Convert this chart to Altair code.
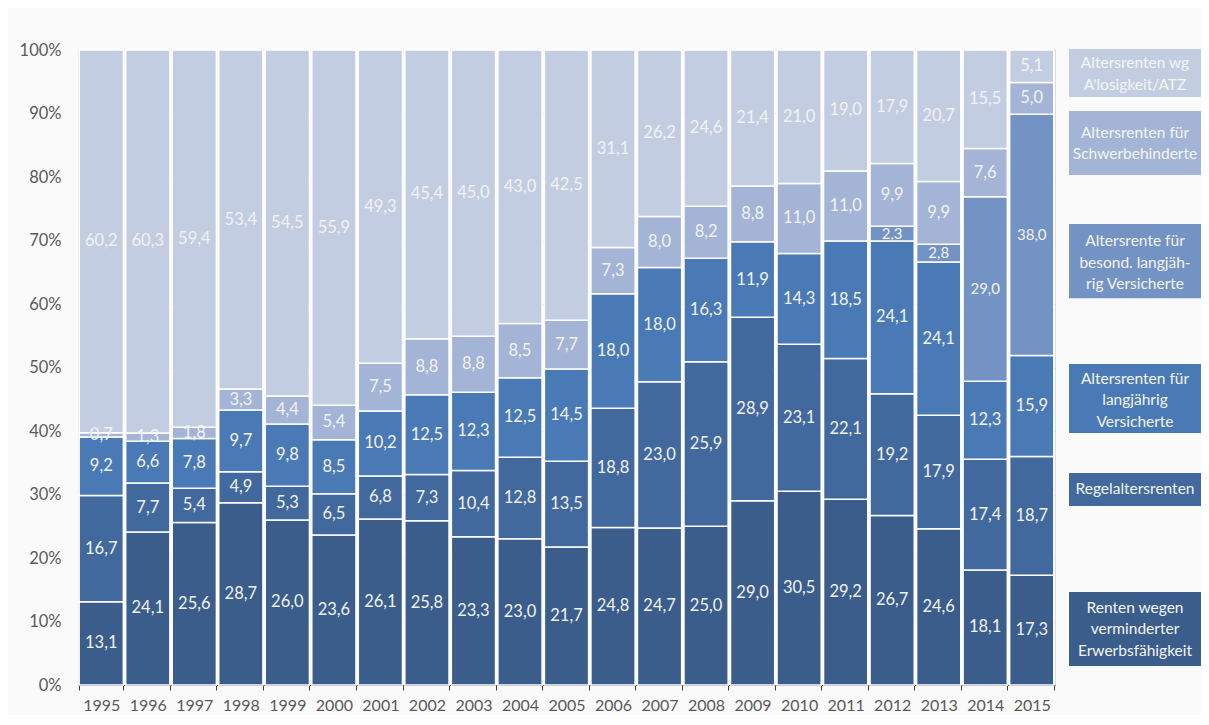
import altair as alt
import pandas as pd

years = [str(y) for y in range(1995, 2016)]
categories = [
    "Renten wegen verminderter Erwerbsfähigkeit",
    "Regelaltersrenten",
    "Altersrenten für langjährig Versicherte",
    "Altersrente für besond. langjährig Versicherte",
    "Altersrenten für Schwerbehinderte",
    "Altersrenten wg A'losigkeit/ATZ",
]
erwerb = [13.1, 24.1, 25.6, 28.7, 26.0, 23.6, 26.1, 25.8, 23.3, 23.0, 21.7, 24.8, 24.7, 25.0, 29.0, 30.5, 29.2, 26.7, 24.6, 18.1, 17.3]
regel = [16.7, 7.7, 5.4, 4.9, 5.3, 6.5, 6.8, 7.3, 10.4, 12.8, 13.5, 18.8, 23.0, 25.9, 28.9, 23.1, 22.1, 19.2, 17.9, 17.4, 18.7]
langj = [9.2, 6.6, 7.8, 9.7, 9.8, 8.5, 10.2, 12.5, 12.3, 12.5, 14.5, 18.0, 18.0, 16.3, 11.9, 14.3, 18.5, 24.1, 24.1, 12.3, 15.9]
besond = [0, 0, 0, 0, 0, 0, 0, 0, 0, 0, 0, 0, 0, 0, 0, 0, 0, 2.3, 2.8, 29.0, 38.0]
schwer = [0.7, 1.3, 1.8, 3.3, 4.4, 5.4, 7.5, 8.8, 8.8, 8.5, 7.7, 7.3, 8.0, 8.2, 8.8, 11.0, 11.0, 9.9, 9.9, 7.6, 5.0]
alos = [60.2, 60.3, 59.4, 53.4, 54.5, 55.9, 49.3, 45.4, 45.0, 43.0, 42.5, 31.1, 26.2, 24.6, 21.4, 21.0, 19.0, 17.9, 20.7, 15.5, 5.1]
series = [erwerb, regel, langj, besond, schwer, alos]

legend_texts = [
    "Renten wegen\nverminderter\nErwerbsfähigkeit",
    "Regelaltersrenten",
    "Altersrenten für\nlangjährig\nVersicherte",
    "Altersrente für\nbesond. langjäh-\nrig Versicherte",
    "Altersrenten  für\nSchwerbehinderte",
    "Altersrenten wg\nA'losigkeit/ATZ",
]

# style / layout (not data)
colors = ["#3a5d8b", "#42699e", "#4a7ab5", "#7393c4", "#a3b4d6", "#c3cde2"]
legend_top = [0.1465, 0.334, 0.5055, 0.726, 0.904, 1.0016]
legend_bot = [0.030, 0.282, 0.397, 0.609, 0.803, 0.926]
legend_first_line = [0.1213, 0.3087, 0.4819, 0.6992, 0.8693, 0.9795]

rows = []
for ci, (cat, vals) in enumerate(zip(categories, series)):
    for y, v in zip(years, vals):
        rows.append({"year": y, "cat": cat, "order": ci, "value": v})
df = pd.DataFrame(rows)

leg = pd.DataFrame({
    "cat": categories,
    "text": legend_texts,
    "top": legend_top,
    "bot": legend_bot,
    "line1": legend_first_line,
})

W, H = 977, 635
color_scale = alt.Scale(domain=categories, range=colors)
y_scale = alt.Scale(domain=[0, 1], nice=False)

base = (
    alt.Chart(df)
    .transform_filter("datum.value > 0")
    .transform_stack(
        stack="value",
        groupby=["year"],
        sort=[alt.SortField("order", order="ascending")],
        as_=["y0", "y1"],
        offset="normalize",
    )
    .transform_calculate(
        mid="(datum.y0 + datum.y1) / 2",
        label="replace(format(datum.value, '.1f'), '.', ',')",
    )
)

x_enc = alt.X(
    "year:O",
    sort=years,
    scale=alt.Scale(paddingInner=0.05, paddingOuter=0.025),
    axis=alt.Axis(
        title=None,
        labelAngle=0,
        tickBand="extent",
        labelFontSize=16,
        labelColor="#595959",
        labelPadding=7,
        tickSize=5,
        tickColor="#404040",
        domainColor="#404040",
        grid=False,
    ),
)

bars = base.mark_bar(stroke="white", strokeWidth=1.5).encode(
    x=x_enc,
    y=alt.Y(
        "y0:Q",
        scale=y_scale,
        title=None,
        axis=alt.Axis(
            title=None,
            format=".0%",
            values=[i / 10 for i in range(11)],
            domain=False,
            ticks=False,
            grid=True,
            gridDash=[1, 3],
            gridColor="#c8c8c8",
            labelFontSize=16.5,
            labelColor="#595959",
            labelPadding=17,
        ),
    ),
    y2="y1:Q",
    color=alt.Color("cat:N", scale=color_scale, legend=None),
)

labels = base.mark_text(color="#f2f2f2", baseline="middle", align="center").encode(
    x=alt.X("year:O", sort=years),
    y=alt.Y("mid:Q", scale=y_scale, title=None),
    text="label:N",
    size=alt.condition("datum.order == 3", alt.value(15), alt.value(16.5)),
)

leg_rect = alt.Chart(leg).mark_rect().encode(
    x=alt.value(991),
    x2=alt.value(1123),
    y=alt.Y("top:Q", scale=y_scale, title=None),
    y2="bot:Q",
    color=alt.Color("cat:N", scale=color_scale, legend=None),
)

leg_text = alt.Chart(leg).mark_text(
    lineBreak="\n", lineHeight=21.5, fontSize=15.5, color="#f4f4f4",
    align="center", baseline="middle",
).encode(
    x=alt.value(1057),
    y=alt.Y("line1:Q", scale=y_scale, title=None),
    text="text:N",
)

chart = (
    alt.layer(bars, labels, leg_rect, leg_text)
    .properties(
        width=W,
        height=H,
        autosize=alt.AutoSizeParams(type="none"),
        padding={"left": 70, "top": 42, "right": 146, "bottom": 30},
        background="#fafafa",
    )
    .configure_view(stroke=None)
    .configure(font="Lato")
)

chart.save("out.html", embed_options={"renderer": "svg", "actions": False})
